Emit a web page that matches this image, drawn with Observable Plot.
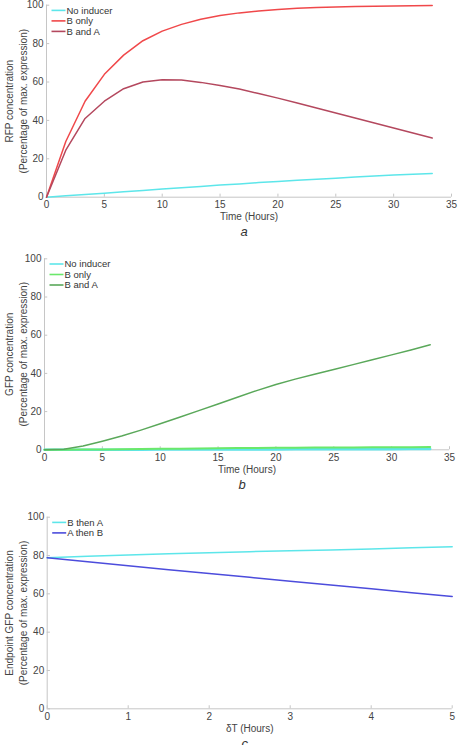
<!DOCTYPE html>
<html>
<head>
<meta charset="utf-8">
<script src="https://cdn.jsdelivr.net/npm/d3@7"></script>
<script src="https://cdn.jsdelivr.net/npm/@observablehq/plot@0.6"></script>
<style>
  body { margin: 0; background: #fff; }
  #chart { position: relative; width: 461px; height: 745px; overflow: hidden; }
  .panel { position: absolute; left: 0; }
  .panel svg { display: block; }
</style>
</head>
<body>
<div id="chart"></div>
<script>
// Sampling times (hours) for the simulated time courses
const time = [0, 1.667, 3.333, 5, 6.667, 8.333, 10, 11.667, 13.333, 15, 16.667,
  18.333, 20, 21.667, 23.333, 25, 26.667, 28.333, 30, 31.667, 33.333];

// Panel a: RFP concentration (% of max expression)
const rfpNoInducer = [0, 0.7, 1.4, 2.1, 2.8, 3.5, 4.3, 4.9, 5.6, 6.3, 6.9,
  7.6, 8.2, 8.8, 9.4, 9.9, 10.5, 11.0, 11.5, 12.0, 12.4];
const rfpBOnly = [0, 29, 50, 64, 74, 81.5, 86.5, 90, 92.7, 94.6, 96,
  97, 97.8, 98.4, 98.8, 99.1, 99.3, 99.5, 99.6, 99.7, 99.8];
const rfpBAndA = [0, 24.5, 41, 50, 56.5, 60, 61.2, 61, 59.8, 58.2, 56.3,
  54, 51.6, 49.1, 46.5, 43.9, 41.2, 38.6, 36, 33.4, 30.8];

// Panel b: GFP concentration (% of max expression)
const gfpNoInducer = [0, 0, 0.02, 0.04, 0.06, 0.08, 0.1, 0.12, 0.14, 0.16, 0.18,
  0.2, 0.22, 0.24, 0.26, 0.28, 0.3, 0.32, 0.34, 0.36, 0.38];
const gfpBOnly = [0, 0.05, 0.1, 0.2, 0.3, 0.4, 0.5, 0.6, 0.7, 0.8, 0.9,
  1.0, 1.05, 1.1, 1.15, 1.2, 1.25, 1.3, 1.35, 1.4, 1.45];
const gfpBAndA = [0, 0.3, 2, 4.5, 7.2, 10.3, 13.6, 17, 20.5, 24, 27.5,
  31, 34.2, 37, 39.6, 42, 44.6, 47.1, 49.7, 52.3, 55];

// Panel c: endpoint GFP versus delay between inducers
const delay = [0, 0.5, 1, 1.5, 2, 2.5, 3, 3.5, 4, 4.5, 5];
const bThenA = [78.8, 79.6, 80.3, 80.9, 81.5, 82.0, 82.5, 82.9, 83.4, 84.0, 84.6];
const aThenB = [78.8, 76.7, 74.6, 72.6, 70.6, 68.6, 66.6, 64.6, 62.6, 60.6, 58.6];

// Axis ticks
const timeTicks = [0, 5, 10, 15, 20, 25, 30, 35];
const delayTicks = [0, 1, 2, 3, 4, 5];
const yTicks = [0, 20, 40, 60, 80, 100];

const FONT = "'Liberation Sans', Arial, Helvetica, sans-serif";
const AXIS = "#c6c6c6";
const INK = "#444";

function rows(xs, ys) {
  return xs.map((x, i) => ({x, y: ys[i]}));
}

function panel({top, height, mt, mb, ml, mr, xDomain, xTicks, series, yLabel, xLabel, letter}) {
  const marks = [
    Plot.ruleY([0], {stroke: AXIS, strokeWidth: 1}),
    Plot.ruleX([xDomain[0]], {stroke: AXIS, strokeWidth: 1}),
    Plot.ruleX(xTicks, {x: d => d, y1: 0, y2: 1.6, stroke: AXIS}),
    Plot.ruleY(yTicks, {y: d => d, x1: xDomain[0], x2: xDomain[0] + (xDomain[1] - xDomain[0]) * 0.008, stroke: AXIS}),
    Plot.axisX({ticks: xTicks, tickSize: 0, tickPadding: 4, label: null, fill: INK, tickFormat: d3.format("d")}),
    Plot.axisY({ticks: yTicks, tickSize: 0, tickPadding: 3, label: null, fill: INK, tickFormat: d3.format("d")}),
    ...series.map(s => Plot.line(rows(s.xs, s.ys), {x: "x", y: "y", stroke: s.color, strokeWidth: s.width || 1.5})),
    Plot.text([yLabel], {frameAnchor: "left", textAnchor: "middle", lineAnchor: "middle", rotate: -90,
      dx: -ml + 15, lineHeight: 1.35, fill: INK, fontSize: 10}),
    Plot.text([xLabel], {frameAnchor: "bottom", textAnchor: "middle", lineAnchor: "middle", dy: 20, fill: INK, fontSize: 10}),
    Plot.text([letter], {frameAnchor: "bottom", textAnchor: "middle", lineAnchor: "middle", dy: 35, dx: -5,
      fill: "#333", fontSize: 13, fontStyle: "italic"})
  ];
  const svg = Plot.plot({
    width: 461, height,
    marginTop: mt, marginBottom: mb, marginLeft: ml, marginRight: mr,
    style: {fontFamily: FONT, fontSize: "10px", color: INK, background: "white", overflow: "visible"},
    x: {domain: xDomain},
    y: {domain: [0, 100]},
    marks
  });

  // Legend in the upper-left corner of the plot area
  const legend = d3.select(svg).append("g")
    .attr("font-family", FONT).attr("font-size", 9.5).attr("fill", "#333")
    .attr("text-anchor", "start");
  series.forEach((s, i) => {
    const y = mt + 5.7 + 10.5 * i;
    legend.append("line")
      .attr("x1", ml + 5.5).attr("x2", ml + 19.5).attr("y1", y).attr("y2", y)
      .attr("stroke", s.color).attr("stroke-width", 1.6);
    legend.append("text")
      .attr("x", ml + 20.5).attr("y", y).attr("dy", "0.34em").text(s.name);
  });

  const div = document.createElement("div");
  div.className = "panel";
  div.style.top = top + "px";
  div.appendChild(svg);
  document.getElementById("chart").appendChild(div);
}

panel({
  top: 0, height: 240, mt: 4.7, mb: 43.3, ml: 46, mr: 10,
  xDomain: [0, 35], xTicks: timeTicks,
  series: [
    {name: "No inducer", xs: time, ys: rfpNoInducer, color: "#5de6ea"},
    {name: "B only", xs: time, ys: rfpBOnly, color: "#f0484a"},
    {name: "B and A", xs: time, ys: rfpBAndA, color: "#b4485e"}
  ],
  yLabel: "RFP concentration\n(Percentage of max. expression)",
  xLabel: "Time (Hours)", letter: "a"
});

panel({
  top: 240, height: 260, mt: 18.3, mb: 50.7, ml: 44, mr: 12,
  xDomain: [0, 35], xTicks: timeTicks,
  series: [
    {name: "No inducer", xs: time, ys: gfpNoInducer, color: "#5de6ea", width: 2.5},
    {name: "B only", xs: time, ys: gfpBOnly, color: "#6be86b", width: 2},
    {name: "B and A", xs: time, ys: gfpBAndA, color: "#5aa85a"}
  ],
  yLabel: "GFP concentration\n(Percentage of max. expression)",
  xLabel: "Time (Hours)", letter: "b"
});

panel({
  top: 500, height: 245, mt: 16.7, mb: 36.7, ml: 46.7, mr: 9.3,
  xDomain: [0, 5], xTicks: delayTicks,
  series: [
    {name: "B then A", xs: delay, ys: bThenA, color: "#5de6ea"},
    {name: "A then B", xs: delay, ys: aThenB, color: "#4c4cdc"}
  ],
  yLabel: "Endpoint GFP concentration\n(Percentage of max. expression)",
  xLabel: "δT (Hours)", letter: "c"
});
</script>
</body>
</html>
